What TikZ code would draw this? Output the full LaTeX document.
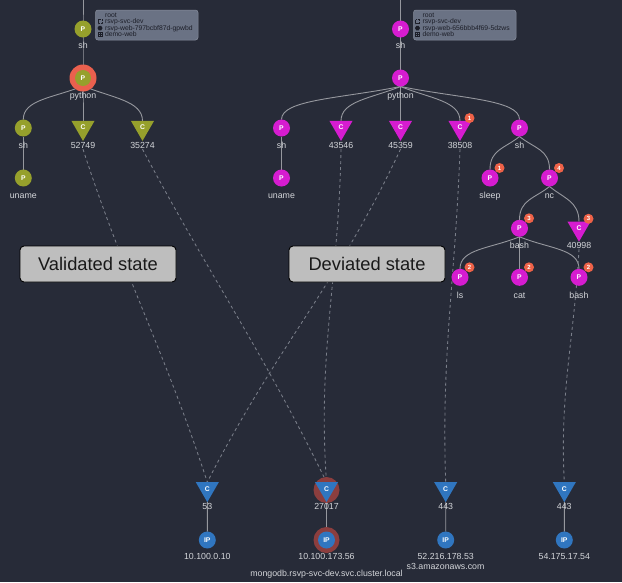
\documentclass[tikz,border=0pt]{standalone}
\usepackage{fontspec}
\setmainfont{Liberation Sans}
\usetikzlibrary{shapes.geometric,calc,backgrounds}
\definecolor{bgc}{RGB}{39,43,56}
\definecolor{olivec}{RGB}{150,160,44}
\definecolor{magc}{RGB}{214,28,208}
\definecolor{bluc}{RGB}{48,118,192}
\definecolor{haloc}{RGB}{234,96,78}
\definecolor{dhaloc}{RGB}{140,62,62}
\definecolor{badgec}{RGB}{238,98,72}
\definecolor{edgec}{RGB}{150,152,158}
\definecolor{dashc}{RGB}{122,127,138}
\definecolor{lblc}{RGB}{212,214,218}
\definecolor{infobg}{RGB}{106,114,132}
\definecolor{infotx}{RGB}{28,30,40}
\definecolor{statebg}{RGB}{190,190,190}
\begin{document}
\begin{tikzpicture}[x=1pt,y=-1pt,
  every node/.style={inner sep=0pt,outer sep=0pt},
  pn/.style={circle,minimum size=17pt,text=white,font=\fontsize{6.8}{7}\selectfont\bfseries},
  cn/.style={regular polygon,regular polygon sides=3,shape border rotate=180,minimum size=26.6pt,text=white,font=\fontsize{6.8}{7}\selectfont\bfseries},
  lb/.style={text=lblc,font=\fontsize{8.8}{10}\selectfont,inner sep=1pt,anchor=base},
  bd/.style={circle,fill=badgec,minimum size=10pt,text=white,font=\fontsize{6}{6}\selectfont\bfseries},
  te/.style={draw=edgec,line width=0.9pt},
  ce/.style={te,to path={.. controls ($(\tikztostart)!0.5!(\tikztotarget|-\tikztostart)+(0,12)$) and ($(\tikztotarget)+(0,-20)$) .. (\tikztotarget)}},
  de/.style={draw=dashc,line width=0.85pt,dash pattern=on 3pt off 3pt},
  infobox/.style={draw=infobg!80!white,line width=0.5pt,fill=infobg,rounded corners=2.5pt,minimum width=102.5pt,minimum height=30pt,anchor=north west},
  infot/.style={text=infotx,font=\fontsize{6.8}{7}\selectfont,anchor=base west},
  statebox/.style={draw=black,line width=0.9pt,fill=statebg,rounded corners=4pt,minimum width=156pt,minimum height=36pt,font=\fontsize{18.3}{20}\selectfont,text=black!90}
]
\useasboundingbox (0,0) rectangle (622,582);

% ---------------- left tree (validated) ----------------
\coordinate (t1) at (83,0);
\node[pn,fill=olivec] (sh1) at (83,29) {P};
\node[lb] (lsh1) at (83,48.1) {sh};
\node[circle,fill=haloc,minimum size=27pt] (h1) at (83,78) {};
\node[pn,fill=olivec,minimum size=16pt] (py1) at (83,78) {P};
\node[lb] (lpy1) at (83,98.6) {python};
\node[pn,fill=olivec] (a1) at (23.3,128) {P};
\node[lb] (la1) at (23.3,148.1) {sh};
\node[cn,fill=olivec] (c52749) at (83,127.6) {C};
\node[lb] (l52749) at (83,148.1) {52749};
\node[cn,fill=olivec] (c35274) at (142.5,127.6) {C};
\node[lb] (l35274) at (142.5,148.1) {35274};
\node[pn,fill=olivec] (un1) at (23.3,178) {P};
\node[lb] (lun1) at (23.3,198.1) {uname};

% info box left
\node[infobox] (ib1) at (95.5,10) {};
\node[infot] (i1r) at (105,17.4) {root};
\node[infot] (i1a) at (105,23.9) {rsvp-svc-dev};
\node[infot] (i1b) at (105,30.4) {rsvp-web-797bcbf87d-gpwbd};
\node[infot] (i1c) at (105,36.9) {demo-web};
\draw[infotx,line width=0.4pt,dash pattern=on 0.8pt off 0.5pt] (98,19.6) rectangle (102,23.6);
\node[regular polygon,regular polygon sides=6,fill=infotx,minimum size=5pt] (hx1) at (100,28.1) {};
\draw[infotx,line width=0.45pt] (98,32.5) rectangle (102,36.5) (98,34.5) -- (102,34.5) (100,32.5) -- (100,36.5);

% ---------------- right tree (deviated) ----------------
\coordinate (t2) at (400.5,0);
\node[pn,fill=magc] (sh2) at (400.5,29) {P};
\node[lb] (lsh2) at (400.5,48.1) {sh};
\node[pn,fill=magc] (py2) at (400.5,78) {P};
\node[lb] (lpy2) at (400.5,98.6) {python};
\node[pn,fill=magc] (a2) at (281.5,128) {P};
\node[lb] (la2) at (281.5,148.1) {sh};
\node[cn,fill=magc] (c43546) at (341,127.6) {C};
\node[lb] (l43546) at (341,148.1) {43546};
\node[cn,fill=magc] (c45359) at (400.5,127.6) {C};
\node[lb] (l45359) at (400.5,148.1) {45359};
\node[cn,fill=magc] (c38508) at (460,127.6) {C};
\node[lb] (l38508) at (460,148.1) {38508};
\node[pn,fill=magc] (s2) at (519.5,128) {P};
\node[lb] (ls2) at (519.5,148.1) {sh};
\node[pn,fill=magc] (un2) at (281.5,178) {P};
\node[lb] (lun2) at (281.5,198.1) {uname};
\node[pn,fill=magc] (sleep) at (490,178) {P};
\node[lb] (lsleep) at (490,198.1) {sleep};
\node[pn,fill=magc] (nc) at (549.5,178) {P};
\node[lb] (lnc) at (549.5,198.1) {nc};
\node[pn,fill=magc] (bashA) at (519.5,228.3) {P};
\node[lb] (lbashA) at (519.5,248.1) {bash};
\node[cn,fill=magc] (c40998) at (579,228.3) {C};
\node[lb] (l40998) at (579,248.1) {40998};
\node[pn,fill=magc] (ls) at (460,277.3) {P};
\node[lb] (lls) at (460,298.1) {ls};
\node[pn,fill=magc] (cat) at (519.5,277.3) {P};
\node[lb] (lcat) at (519.5,298.1) {cat};
\node[pn,fill=magc] (bashB) at (579,277.3) {P};
\node[lb] (lbashB) at (579,298.1) {bash};

% badges
\node[bd] (b1) at ($(c38508.center)+(9.5,-9.5)$) {1};
\node[bd] (b2) at ($(sleep.center)+(9.5,-10)$) {1};
\node[bd] (b3) at ($(nc.center)+(9.5,-10)$) {4};
\node[bd] (b4) at ($(bashA.center)+(9.5,-10)$) {3};
\node[bd] (b5) at ($(c40998.center)+(9.5,-9.5)$) {3};
\node[bd] (b6) at ($(ls.center)+(9.5,-10)$) {2};
\node[bd] (b7) at ($(cat.center)+(9.5,-10)$) {2};
\node[bd] (b8) at ($(bashB.center)+(9.5,-10)$) {2};

% info box right
\node[infobox] (ib2) at (413.5,10) {};
\node[infot] (i2r) at (422.5,17.4) {root};
\node[infot] (i2a) at (422.5,23.9) {rsvp-svc-dev};
\node[infot] (i2b) at (422.5,30.4) {rsvp-web-656bbb4f69-5dzws};
\node[infot] (i2c) at (422.5,36.9) {demo-web};
\draw[infotx,line width=0.4pt,dash pattern=on 0.8pt off 0.5pt] (415.5,19.6) rectangle (419.5,23.6);
\node[regular polygon,regular polygon sides=6,fill=infotx,minimum size=5pt] (hx2) at (417.5,28.1) {};
\draw[infotx,line width=0.45pt] (415.5,32.5) rectangle (419.5,36.5) (415.5,34.5) -- (419.5,34.5) (417.5,32.5) -- (417.5,36.5);

% ---------------- state boxes ----------------
\node[statebox] (vs) at (98,264) {Validated state};
\node[statebox] (ds) at (367,264) {Deviated state};

% ---------------- bottom network nodes ----------------
\node[circle,fill=dhaloc,minimum size=26pt] (h2) at (326.5,490) {};
\node[circle,fill=dhaloc,minimum size=26pt] (h3) at (326.5,540) {};
\node[cn,fill=bluc] (c53) at (207.3,488.8) {C};
\node[lb] (l53) at (207.3,509.8) {53};
\node[cn,fill=bluc] (c27017) at (326.5,488.8) {C};
\node[lb] (l27017) at (326.5,509.8) {27017};
\node[cn,fill=bluc] (c443a) at (445.7,488.8) {C};
\node[lb] (l443a) at (445.7,509.8) {443};
\node[cn,fill=bluc] (c443b) at (564.3,488.8) {C};
\node[lb] (l443b) at (564.3,509.8) {443};
\node[pn,fill=bluc] (ip1) at (207.3,540) {IP};
\node[lb] (lip1) at (207.3,559.8) {10.100.0.10};
\node[pn,fill=bluc] (ip2) at (326.5,540) {IP};
\node[lb] (lip2) at (326.5,559.8) {10.100.173.56};
\node[lb] (lmongo) at (326.5,576.4) {mongodb.rsvp-svc-dev.svc.cluster.local};
\node[pn,fill=bluc] (ip3) at (445.7,540) {IP};
\node[lb] (lip3) at (445.7,559.8) {52.216.178.53};
\node[lb] (ls3) at (445.5,569.8) {s3.amazonaws.com};
\node[pn,fill=bluc] (ip4) at (564.3,540) {IP};
\node[lb] (lip4) at (564.3,559.8) {54.175.17.54};

% ---------------- connectors ----------------
\begin{scope}[on background layer]
\fill[bgc] (0,0) rectangle (622,582);
% left tree
\draw[te] (t1) -- (sh1.center) -- (py1.center) -- (c52749.center);
\draw[te] (a1) -- (un1);
\draw[ce] (py1.south) to (a1.north);
\draw[ce] (py1.south) to (c35274.north);
% right tree
\draw[te] (t2) -- (sh2.center) -- (py2.center) -- (c45359.center);
\draw[te] (a2) -- (un2);
\draw[ce] (py2.south) to (a2.north);
\draw[ce] (py2.south) to (c43546.north);
\draw[ce] (py2.south) to (c38508.north);
\draw[ce] (py2.south) to (s2.north);
\draw[ce] (s2.south) to (sleep.north);
\draw[ce] (s2.south) to (nc.north);
\draw[ce] (nc.south) to (bashA.north);
\draw[ce] (nc.south) to (c40998.north);
\draw[ce] (bashA.south) to (ls.north);
\draw[ce] (bashA.south) to (bashB.north);
\draw[te] (bashA) -- (cat);
% dashed cross links
\draw[de] (l52749.south) to[out=-72,in=108] (c53.north);
\draw[de] (l35274.south) to[out=-62,in=116] (c27017.north);
\draw[de] (l43546.south) to[out=-91,in=94] (c27017.north);
\draw[de] (l45359.south) to[out=-115,in=63] (c53.north);
\draw[de] (l38508.south) to[out=-92,in=92] (c443a.north);
\draw[de] (l40998.south) to[out=-93,in=93] (c443b.north);
% bottom
\draw[te] (c53) -- (ip1);
\draw[te] (c27017) -- (ip2);
\draw[te] (c443a) -- (ip3);
\draw[te] (c443b) -- (ip4);
\end{scope}
\end{tikzpicture}
\end{document}
